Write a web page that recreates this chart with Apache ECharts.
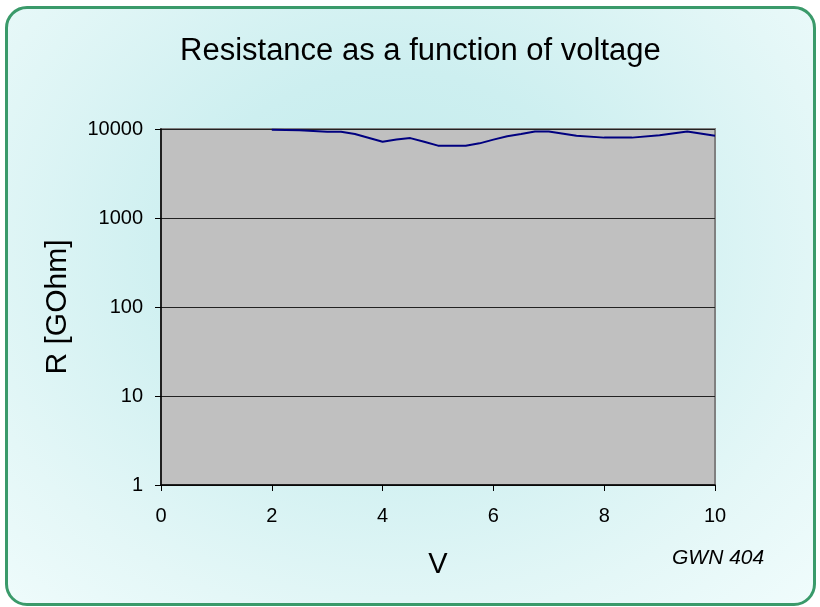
<!DOCTYPE html>
<html>
<head>
<meta charset="utf-8">
<script src="https://cdn.jsdelivr.net/npm/echarts@6/dist/echarts.min.js"></script>
<style>
  html, body { margin: 0; padding: 0; background: #ffffff; }
  #bg {
    position: absolute; left: 5px; top: 6px; width: 805px; height: 594px;
    border: 3px solid #3a9a6a; border-radius: 22px;
    background: radial-gradient(ellipse at 48% 40%, #c2ebeb 0%, #cdeff0 35%, #e4f7f7 75%, #f0fcfc 100%);
  }
  #chart { position: absolute; left: 0; top: 0; width: 820px; height: 607px; }
</style>
</head>
<body>
<div id="bg"></div>
<div id="chart"></div>
<script>
const voltage = [2, 2.5, 3, 3.25, 3.5, 4, 4.25, 4.5, 4.75, 5, 5.5, 5.75, 6, 6.25, 6.5, 6.75, 7, 7.5, 8, 8.5, 9, 9.5, 10];
const resistance = [9800, 9700, 9300, 9300, 8800, 7200, 7600, 7900, 7200, 6500, 6500, 6900, 7600, 8300, 8800, 9400, 9400, 8400, 8000, 8000, 8500, 9400, 8400];
const titleText = 'Resistance as a function of voltage';
const xName = 'V';
const yName = 'R [GOhm]';
const noteText = 'GWN 404';

const font = 'Liberation Sans, Arial, sans-serif';
const chart = echarts.init(document.getElementById('chart'));
chart.setOption({
  backgroundColor: 'transparent',
  animation: false,
  title: {
    text: titleText, left: 180, top: 36, padding: 0,
    textStyle: { fontFamily: font, fontSize: 31, fontWeight: 'normal', color: '#000' }
  },
  grid: {
    left: 161, right: 105, top: 129, bottom: 122,
    show: true, backgroundColor: '#c0c0c0', borderColor: '#808080', borderWidth: 2
  },
  xAxis: {
    type: 'value', min: 0, max: 10, interval: 2,
    name: xName, nameLocation: 'middle', nameGap: 65,
    nameTextStyle: { fontFamily: font, fontSize: 29, color: '#000' },
    axisLine: { show: true, onZero: false, lineStyle: { color: '#000', width: 1.5 } },
    axisTick: { show: true, length: 6, lineStyle: { color: '#000' } },
    axisLabel: { margin: 21, fontFamily: font, fontSize: 20, color: '#000' },
    splitLine: { show: false }
  },
  yAxis: {
    type: 'log', logBase: 10, min: 1, max: 10000,
    name: yName, nameLocation: 'middle', nameGap: 88, nameRotate: 90,
    nameTextStyle: { fontFamily: font, fontSize: 30, color: '#000' },
    axisLine: { show: true, lineStyle: { color: '#000', width: 1.5 } },
    axisTick: { show: true, length: 6, lineStyle: { color: '#000' } },
    axisLabel: { margin: 18, fontFamily: font, fontSize: 20, color: '#000', formatter: v => String(Math.round(v)) },
    splitLine: { show: true, lineStyle: { color: '#222', width: 1 } }
  },
  graphic: [{
    type: 'text', left: 672, top: 548,
    style: { text: noteText, font: 'italic 21px ' + font, fill: '#000' }
  }],
  series: [{
    type: 'line',
    data: voltage.map((v, i) => [v, resistance[i]]),
    showSymbol: false, smooth: false,
    lineStyle: { color: '#000080', width: 2 },
    clip: false
  }]
});
</script>
</body>
</html>
